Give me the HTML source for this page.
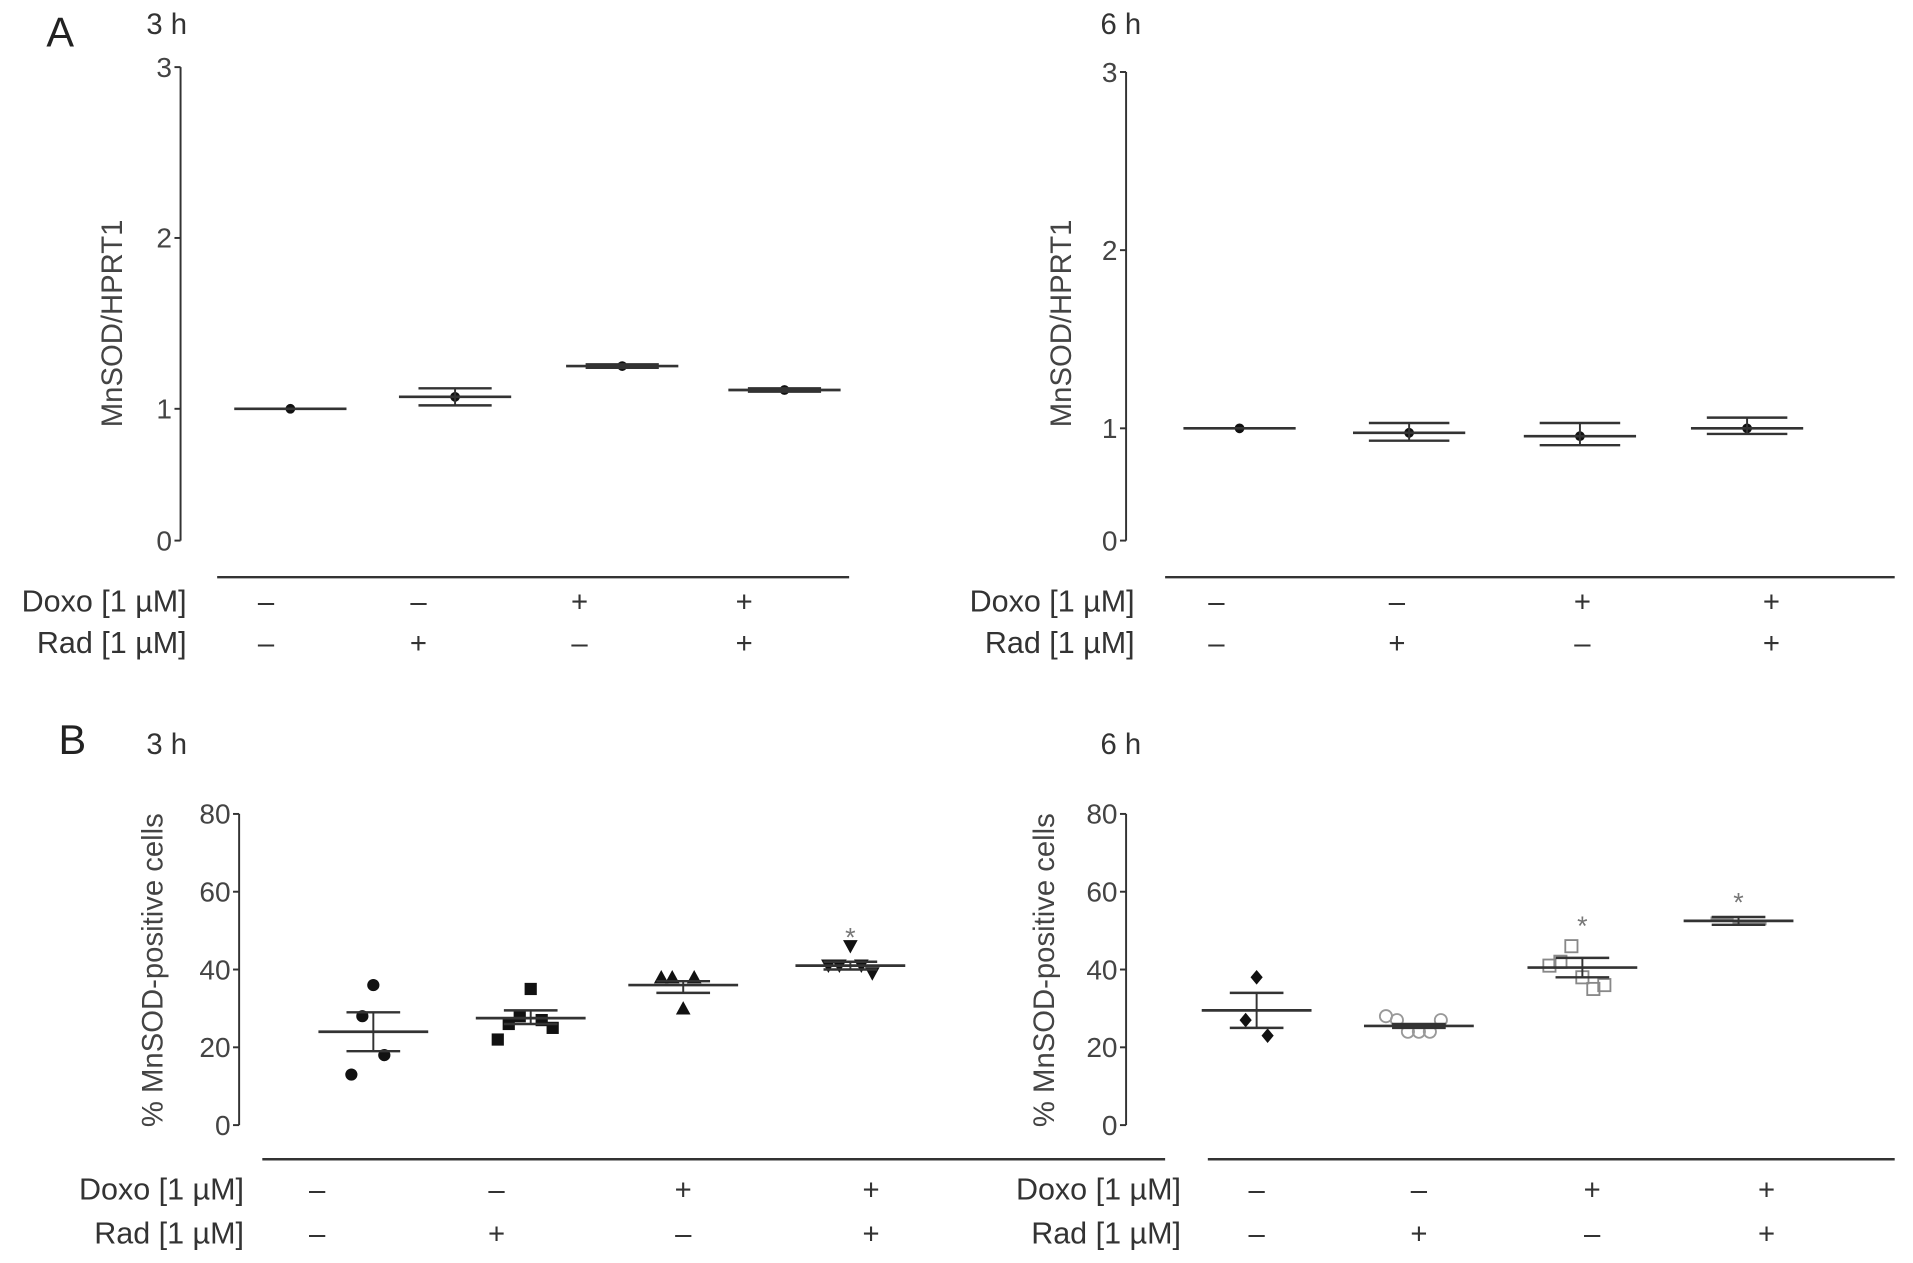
<!DOCTYPE html>
<html><head><meta charset="utf-8"><style>
html,body{margin:0;padding:0;background:#fff;}
svg{display:block;font-family:"Liberation Sans Narrow","Liberation Sans",sans-serif;}
</style></head><body>
<svg id="fig" width="1913" height="1263" viewBox="0 0 1568 1035" preserveAspectRatio="none" xmlns="http://www.w3.org/2000/svg">
<text x="38" y="38" font-size="34" fill="#222">A</text>
<text x="48" y="618" font-size="34" fill="#222">B</text>
</svg>
<script>
// ---- data ----
const groupsDoxo = ['–','–','+','+'];
const groupsRad = ['–','+','–','+'];
const a3Means = [1.0, 1.07, 1.25, 1.11];
const a3Lo = [1.0, 1.02, 1.24, 1.10];
const a3Hi = [1.0, 1.12, 1.26, 1.12];
const a6Means = [1.0, 0.96, 0.93, 1.0];
const a6Lo = [1.0, 0.89, 0.85, 0.95];
const a6Hi = [1.0, 1.03, 1.03, 1.06];
const aTicks = [0, 1, 2, 3];
const b3Means = [24, 27.5, 36, 41];
const b3Lo = [19, 26, 34, 40];
const b3Hi = [29, 29.5, 37, 42];
const b3Points = [[36, 28, 18, 13],[35, 28, 27, 26, 25, 22],[30, 38, 38, 38],[46, 41, 41, 41, 39]];
const b6Means = [29.5, 25.5, 40.5, 52.5];
const b6Lo = [25, 25, 38, 51.5];
const b6Hi = [34, 26, 43, 53.5];
const b6Points = [[38, 27, 23],[24, 24, 24, 27, 27, 28],[38, 46, 35, 42, 36, 41],[52, 53, 52, 53, 52]];
const b3Stars = [null, null, null, 49];
const b6Stars = [null, null, 52, 58];
const bTicks = [0, 20, 40, 60, 80];

const NS = 'http://www.w3.org/2000/svg';
const svg = document.getElementById('fig');
function mk(tag, attrs, parent){const e=document.createElementNS(NS,tag);for(const k in attrs)e.setAttribute(k,attrs[k]);(parent||svg).appendChild(e);return e;}

function panel(cfg){
  const g = mk('g',{});
  
  
  const y = cfg.scale;
  const ax = mk('line',{x1:cfg.ax,x2:cfg.ax,y1:y(cfg.ticks[cfg.ticks.length-1]),y2:y(cfg.ticks[0]),stroke:'#333','stroke-width':1.6},g);
  
  
  cfg.ticks.forEach(t=>{
    mk('line',{x1:cfg.ax-5,x2:cfg.ax,y1:y(t),y2:y(t),stroke:'#333','stroke-width':1.6},g);
    const tx = mk('text',{x:cfg.ax-7,y:y(t)+8,'font-size':23,fill:'#444','text-anchor':'end'},g);
    tx.textContent = t;
    
    
  });
  const tt = mk('text',{x:cfg.titleX,y:cfg.titleY,'font-size':24,fill:'#444','text-anchor':'middle',transform:`rotate(-90 ${cfg.titleX} ${cfg.titleY})`,style:'font-family:"Liberation Sans",sans-serif'},g);
  tt.textContent = cfg.title;
  
  
  const tl = mk('text',{x:cfg.timeX,y:cfg.timeY,'font-size':24,fill:'#333'},g);
  tl.textContent = cfg.time;
  
  
  const sep = mk('line',{x1:cfg.sepX1,x2:cfg.sepX2,y1:cfg.sepY,y2:cfg.sepY,stroke:'#333','stroke-width':2},g);
  
  
  [['Doxo [1 µM]',cfg.doxoY,groupsDoxo],['Rad [1 µM]',cfg.radY,groupsRad]].forEach(([lab,yy,arr])=>{
    const l = mk('text',{x:cfg.labX,y:yy+8,'font-size':25,fill:'#333','text-anchor':'end'},g);
    l.textContent = lab;
    
    
    arr.forEach((s,i)=>{
      const t = mk('text',{x:cfg.sx[i],y:yy+8,'font-size':24,fill:'#333','text-anchor':'middle'},g);
      t.textContent = s;
      
      
    });
  });
  cfg.means.forEach((m,i)=>{
    const x = cfg.gx[i];
    const gg = mk('g',{},g);
    
    
    if(cfg.points){
      cfg.points[i].forEach((p,j)=>{
        const k = Math.ceil(j/2) * (j%2 ? -1 : 1);
        marker(gg, cfg.shapes[i], x + k*cfg.jitter, y(p));
      });
    } else {
      mk('circle',{cx:x,cy:y(m),r:4,fill:'#111'},gg);
    }
    if(cfg.lo[i]!==cfg.hi[i]){
      mk('line',{x1:x,x2:x,y1:y(cfg.lo[i]),y2:y(cfg.hi[i]),stroke:'#333','stroke-width':1.6},gg);
      [cfg.lo[i],cfg.hi[i]].forEach(v=>mk('line',{x1:x-cfg.cap,x2:x+cfg.cap,y1:y(v),y2:y(v),stroke:'#333','stroke-width':2},gg));
    }
    const ml = mk('line',{x1:x-cfg.mw,x2:x+cfg.mw,y1:y(m),y2:y(m),stroke:'#333','stroke-width':2.2},gg);
    
    
    if(cfg.stars && cfg.stars[i]!=null){
      const st = mk('text',{x:x,y:y(cfg.stars[i])+10,'font-size':22,fill:'#777','text-anchor':'middle'},gg);
      st.textContent = '*';
      
      
    }
  });
}
function marker(g, s, x, y){
  let e;
  if(s==='circle') e = mk('circle',{cx:x,cy:y,r:5,fill:'#111'},g);
  else if(s==='square') e = mk('rect',{x:x-5,y:y-5,width:10,height:10,fill:'#111'},g);
  else if(s==='up') e = mk('polygon',{points:`${x},${y-6} ${x-6},${y+5} ${x+6},${y+5}`,fill:'#111'},g);
  else if(s==='down') e = mk('polygon',{points:`${x},${y+6} ${x-6},${y-5} ${x+6},${y-5}`,fill:'#111'},g);
  else if(s==='diamond') e = mk('polygon',{points:`${x},${y-6} ${x+5},${y} ${x},${y+6} ${x-5},${y}`,fill:'#111'},g);
  else if(s==='ocircle') e = mk('circle',{cx:x,cy:y,r:5,fill:'none',stroke:'#999','stroke-width':1.5},g);
  else if(s==='osquare') e = mk('rect',{x:x-5,y:y-5,width:10,height:10,fill:'none',stroke:'#888','stroke-width':1.5},g);
  else e = mk('rect',{x:x-5,y:y-2,width:10,height:4,fill:'#999'},g);
  
  
}

panel({name:'panel-a-3h', ax:148, ticks:aTicks,
  scale:v=> v>=1 ? 335-(v-1)*140 : 443-v*108,
  title:'MnSOD/HPRT1', titleX:100, titleY:265, time:'3 h', timeX:120, timeY:28,
  sepX1:178, sepX2:696, sepY:473, labX:153, doxoY:493, radY:527,
  sx:[218,343,475,610], gx:[238,373,510,643], means:a3Means, lo:a3Lo, hi:a3Hi, mw:46, cap:30});
panel({name:'panel-a-6h', ax:923, ticks:aTicks,
  scale:v=> v>=1 ? 351-(v-1)*146 : 443-v*92,
  title:'MnSOD/HPRT1', titleX:878, titleY:265, time:'6 h', timeX:902, timeY:28,
  sepX1:955, sepX2:1553, sepY:473, labX:930, doxoY:493, radY:527,
  sx:[997,1145,1297,1452], gx:[1016,1155,1295,1432], means:a6Means, lo:a6Lo, hi:a6Hi, mw:46, cap:33});
panel({name:'panel-b-3h', ax:196, ticks:bTicks,
  scale:v=> 922-v*255/80,
  title:'% MnSOD-positive cells', titleX:133, titleY:795, time:'3 h', timeX:120, timeY:618,
  sepX1:215, sepX2:955, sepY:950, labX:200, doxoY:975, radY:1011,
  sx:[260,407,560,714], gx:[306,435,560,697], means:b3Means, lo:b3Lo, hi:b3Hi, mw:45, cap:22,
  points:b3Points, shapes:['circle','square','up','down'], jitter:9, stars:b3Stars});
panel({name:'panel-b-6h', ax:923, ticks:bTicks,
  scale:v=> 922-v*255/80,
  title:'% MnSOD-positive cells', titleX:864, titleY:795, time:'6 h', timeX:902, timeY:618,
  sepX1:990, sepX2:1553, sepY:950, labX:968, doxoY:975, radY:1011,
  sx:[1030,1163,1305,1448], gx:[1030,1163,1297,1425], means:b6Means, lo:b6Lo, hi:b6Hi, mw:45, cap:22,
  points:b6Points, shapes:['diamond','ocircle','osquare','bar'], jitter:9, stars:b6Stars});
</script>
</body></html>
